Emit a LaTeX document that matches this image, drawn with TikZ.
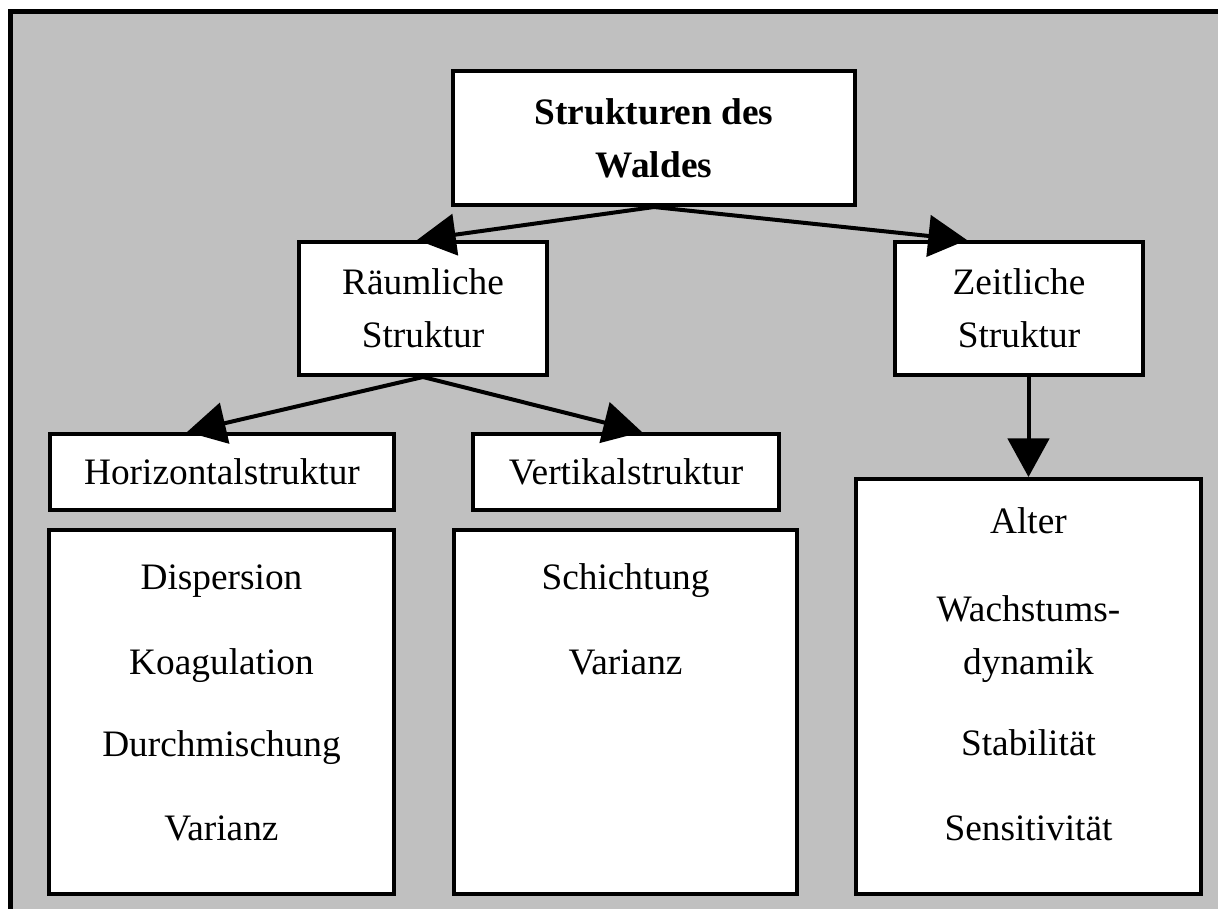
\documentclass[tikz,border=0pt]{standalone}
\usepackage{fontspec}
\setmainfont{Liberation Serif}
\usetikzlibrary{arrows.meta}
\definecolor{panelgray}{RGB}{192,192,192}
\begin{document}
\begin{tikzpicture}[x=0.75pt,y=-0.75pt,
  box/.style={draw=black, line width=3pt, fill=white, align=center, inner sep=0pt,
    font=\fontsize{28}{39.75}\selectfont},
  item/.style={anchor=base, inner sep=0pt, font=\fontsize{28}{39.75}\selectfont},
  link/.style={line width=3pt, -{Triangle[length=29pt,width=31pt]}}]
\useasboundingbox (0,0) rectangle (1218,908);
\clip (0,0) rectangle (1218,908);
% panel
\draw[line width=3.75pt, fill=panelgray] (10.5,11.5) rectangle (1240,930);

% boxes
\node[box, minimum width=301.5pt, minimum height=100.5pt, font=\fontsize{28}{39.75}\selectfont\bfseries]
  (T) at (654,138) {Strukturen des\\Waldes};
\node[box, minimum width=186pt, minimum height=99.75pt] (R) at (423,308.5) {Räumliche\\Struktur};
\node[box, minimum width=186pt, minimum height=99.75pt] (Z) at (1019,308.5) {Zeitliche\\Struktur};
\node[box, minimum width=258pt, minimum height=57pt] (H) at (222,472) {Horizontalstruktur};
\node[box, minimum width=229.5pt, minimum height=57pt] (V) at (626,472) {Vertikalstruktur};
\node[box, minimum width=258.75pt, minimum height=273pt] (LL) at (221.5,712) {};
\node[box, minimum width=257.25pt, minimum height=273pt] (LM) at (625.5,712) {};
\node[box, minimum width=258.75pt, minimum height=311.25pt] (RL) at (1028.5,686.5) {};

% list entries
\node[item] (d1) at (221.5,589) {Dispersion};
\node[item] (d2) at (221.5,674) {Koagulation};
\node[item] (d3) at (221.5,756) {Durchmischung};
\node[item] (d4) at (221.5,840) {Varianz};
\node[item] (m1) at (625.5,589) {Schichtung};
\node[item] (m2) at (625.5,674) {Varianz};
\node[item] (r1) at (1028.5,533) {Alter};
\node[item] (r2) at (1028.5,621) {Wachstums-};
\node[item] (r3) at (1028.5,674) {dynamik};
\node[item] (r4) at (1028.5,755) {Stabilität};
\node[item] (r5) at (1028.5,840) {Sensitivität};

% connectors
\draw[link] (T.south) -- ([xshift=-4.5pt]R.north);
\draw[link] (T.south) -- ([xshift=-39pt]Z.north);
\draw[link] (R.south) -- ([xshift=-26.25pt]H.north);
\draw[link] (R.south) -- ([xshift=12pt]V.north);
\draw[link] (Z.south -| RL.north) -- (RL.north);
\end{tikzpicture}
\end{document}
